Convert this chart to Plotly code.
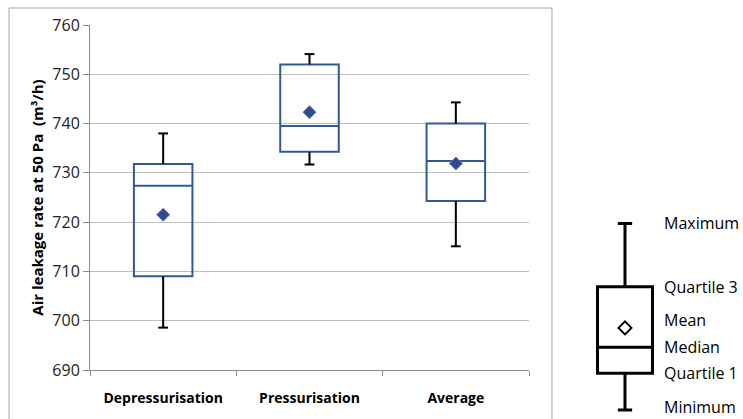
import plotly.graph_objects as go

categories = ["Depressurisation", "Pressurisation", "Average"]
minimum = [698.6, 731.7, 715.1]
quartile1 = [709.0, 734.3, 724.3]
median = [727.4, 739.5, 732.4]
quartile3 = [731.8, 752.0, 740.0]
maximum = [738.0, 754.1, 744.3]
mean = [721.5, 742.3, 731.9]
yticks = [690, 700, 710, 720, 730, 740, 750, 760]

# schematic legend diagram values
leg_labels = ["Minimum", "Quartile 1", "Median", "Mean", "Quartile 3", "Maximum"]
leg_values = [0.0, 1.0, 1.71, 2.24, 3.36, 5.09]
leg_shift = {"Mean": 8, "Minimum": 3}

BLUE = "#2F5A96"
FONT = "Open Sans"
xs = list(range(len(categories)))

fig = go.Figure()

fig.add_trace(go.Box(
    x=xs, q1=quartile1, median=median, q3=quartile3,
    lowerfence=quartile1, upperfence=quartile3,
    width=0.4, whiskerwidth=0,
    line=dict(color=BLUE, width=2), fillcolor="rgba(0,0,0,0)",
    hoverinfo="skip", showlegend=False, xaxis="x", yaxis="y"))

wx, wy = [], []
for i in xs:
    wx += [i, i, None, i, i, None]
    wy += [quartile3[i], maximum[i], None, quartile1[i], minimum[i], None]
fig.add_trace(go.Scatter(x=wx, y=wy, mode="lines", line=dict(color="black", width=2),
                         showlegend=False, hoverinfo="skip"))
fig.add_trace(go.Scatter(x=xs + xs, y=maximum + minimum, mode="markers",
                         marker=dict(symbol="line-ew", size=7, line=dict(color="black", width=2)),
                         showlegend=False, hoverinfo="skip"))
fig.add_trace(go.Scatter(x=xs, y=mean, mode="markers",
                         marker=dict(symbol="diamond", size=10, color="#2E4C8C",
                                     line=dict(color="#7A6BB0", width=1)),
                         showlegend=False, hoverinfo="skip"))

# legend diagram
lv = dict(zip(leg_labels, leg_values))
fig.add_trace(go.Box(
    x=[0], q1=[lv["Quartile 1"]], median=[lv["Median"]], q3=[lv["Quartile 3"]],
    lowerfence=[lv["Minimum"]], upperfence=[lv["Maximum"]],
    width=1, whiskerwidth=0.26, line=dict(color="black", width=3),
    fillcolor="rgba(0,0,0,0)", hoverinfo="skip", showlegend=False,
    xaxis="x2", yaxis="y2"))
fig.add_trace(go.Scatter(x=[0], y=[lv["Mean"]], mode="markers",
                         marker=dict(symbol="diamond-open", size=10, color="black",
                                     line=dict(color="black", width=2)),
                         showlegend=False, hoverinfo="skip", xaxis="x2", yaxis="y2"))
for lab in leg_labels:
    fig.add_annotation(x=0.673, y=lv[lab], xref="x2", yref="y2", text=lab,
                       showarrow=False, xanchor="left", yanchor="middle",
                       yshift=leg_shift.get(lab, 0),
                       font=dict(family=FONT, size=16, color="black"))

fig.update_layout(
    width=743, height=419,
    margin=dict(l=90, r=0, t=25, b=5, autoexpand=False),
    paper_bgcolor="white", plot_bgcolor="white",
    xaxis=dict(domain=[0, 0.6723], range=[-0.5, 2.5], tickvals=xs, ticktext=categories,
               ticks="", showgrid=False, zeroline=False, showline=True, automargin=False,
               linecolor="#8C8C8C", linewidth=1, ticklabelstandoff=15,
               tickfont=dict(family=FONT, size=14, color="black", weight="bold"),
               minor=dict(tick0=-0.5, dtick=1, ticks="outside", ticklen=5,
                          tickcolor="#8C8C8C", showgrid=False)),
    yaxis=dict(domain=[0.1131, 1], range=[690, 760], tickvals=yticks, automargin=False,
               showgrid=True, gridcolor="#BFBFBF", gridwidth=1, zeroline=False,
               showline=True, linecolor="#8C8C8C", ticks="outside", ticklen=6,
               tickcolor="#8C8C8C",
               tickfont=dict(family=FONT, size=16, color="#222"),
               title=dict(text="Air leakage rate at 50 Pa  (m³/h)", standoff=5,
                          font=dict(family=FONT, size=15, color="black", weight="bold"))),
    xaxis2=dict(domain=[0.7351, 0.9035], range=[-1, 1], visible=False, anchor="y2"),
    yaxis2=dict(domain=[0, 0.5116], range=[-0.109, 5.32], visible=False, anchor="x2"),
    shapes=[dict(type="rect", xref="paper", yref="paper", x0=-0.124, x1=0.7075,
                 y0=-0.1, y1=1.0437, line=dict(color="#A6A6A6", width=1),
                 fillcolor="rgba(0,0,0,0)", layer="below")],
)

fig.write_html("out.html")
